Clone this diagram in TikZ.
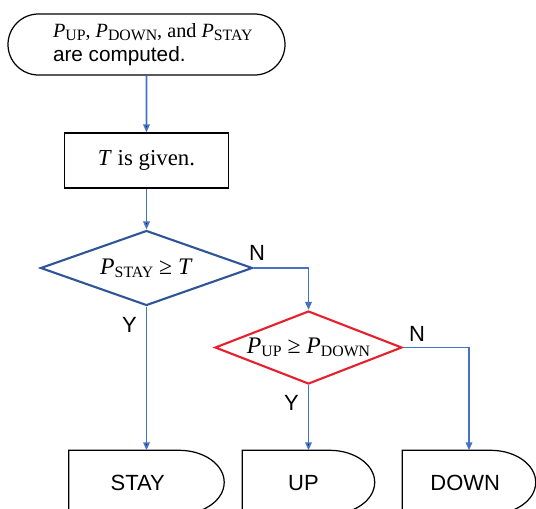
\documentclass[tikz,border=0pt]{standalone}
\usepackage{fontspec}
\setmainfont{Liberation Serif}
\setsansfont{Liberation Sans}
\usetikzlibrary{shapes.geometric,shapes.misc,arrows.meta}
\definecolor{linkblue}{RGB}{68,114,196}
\definecolor{testblue}{RGB}{47,85,151}
\definecolor{testred}{RGB}{230,32,44}
\newcommand{\prob}[1]{\textit{P}\raisebox{-0.3ex}{\fontsize{9}{10}\selectfont #1}}
\begin{document}
\begin{tikzpicture}[thick,
    term node/.style={rounded rectangle,draw,line width=0.7pt,inner sep=0pt,align=left,font=\fontsize{11.5}{13.5}\selectfont},
    proc node/.style={rectangle,draw,line width=0.7pt,inner sep=0pt,font=\fontsize{13}{15}\selectfont},
    test node/.style={diamond,draw,line width=1.2pt,inner sep=0pt,font=\fontsize{13.5}{15}\selectfont},
    end node/.style={rectangle,inner sep=0pt,minimum height=1.28cm,font=\sffamily\fontsize{12.5}{14}\selectfont},
    yn/.style={font=\sffamily\fontsize{12.5}{14}\selectfont,inner sep=1pt},
    link/.style={draw=linkblue,line width=1pt,-{Triangle[length=1.6mm,width=1.3mm]}}]
        \useasboundingbox (0,0) rectangle (10.72,-10.16);

        \node[term node,minimum width=5.54cm,minimum height=1.22cm] at (2.93,-0.89) (start)
            {\hspace*{0.25cm}\prob{UP}, \prob{DOWN}, and \prob{STAY}\\\hspace*{0.25cm}{\sffamily\fontsize{11.8}{13.5}\selectfont are computed.}};
        \node[proc node,minimum width=3.28cm,minimum height=1.1cm] at (2.93,-3.21) (given) {\textit{T} is given.};
        \node[test node,draw=testblue,aspect=2.83,minimum width=4.24cm,minimum height=1.5cm] at (2.93,-5.36) (staytest)
            {\prob{STAY} ≥ \textit{T}};
        \node[test node,draw=testred,aspect=2.56,minimum width=3.74cm,minimum height=1.46cm] at (6.17,-6.95) (uptest)
            {\prob{UP} ≥ \prob{DOWN}};
        \node[end node,minimum width=3.08cm] at (2.93,-9.66) (stay) {STAY\hspace*{0.35cm}};
        \node[end node,minimum width=2.62cm] at (6.17,-9.66) (up) {UP\hspace*{0.2cm}};
        \node[end node,minimum width=2.64cm] at (9.38,-9.66) (down) {DOWN\hspace*{0.15cm}};

        % delay shapes at the bottom
        \foreach \s in {stay,up,down}
            \draw[line width=0.7pt] (\s.south west) -- (\s.north west) -- ([xshift=-0.9cm]\s.north east)
                arc[start angle=90,end angle=-90,x radius=0.9cm,y radius=0.64cm] -- cycle;

        \path[link]
            (start) edge (given)
            (given) edge (staytest)
            (staytest) edge node[yn,pos=0.13,left=4pt] {Y} (stay)
            (uptest) edge node[yn,pos=0.27,left=4pt] {Y} (up);
        \draw[link] (staytest.east) -| node[yn,pos=0,above=3pt,xshift=2pt] {N} (uptest.north);
        \draw[link] (uptest.east) -| node[yn,pos=0,above right=2pt] {N} (down.north);
        \end{tikzpicture}
\end{document}
